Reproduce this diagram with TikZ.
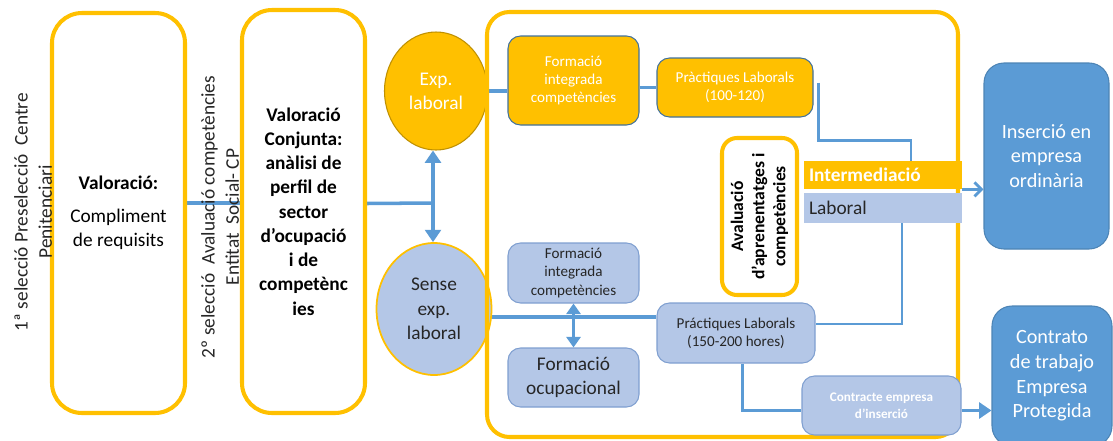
\documentclass[tikz,border=0pt]{standalone}
\usepackage{fontspec}
\setmainfont{Carlito}
\usepackage{tikz}
\usetikzlibrary{arrows.meta,shapes}
\definecolor{gold}{HTML}{FFC000}
\definecolor{darkgold}{HTML}{BF9000}
\definecolor{lineblue}{HTML}{5B9BD5}
\definecolor{paleblue}{HTML}{B4C7E7}
\definecolor{paleedge}{HTML}{7F9FD0}
\definecolor{slateedge}{HTML}{41719C}
\definecolor{inkgray}{HTML}{262626}
\newcommand{\bodyfont}{\fontsize{11}{13.8}\selectfont}
\newcommand{\stepfont}{\fontsize{8.6}{10.4}\selectfont}
\pgfdeclarelayer{edgelayer}
\pgfdeclarelayer{nodelayer}
\pgfsetlayers{edgelayer,nodelayer,main}
\tikzstyle{seltext}=[rotate=90,align=center,inner sep=0pt,text=inkgray]
\tikzstyle{selbox}=[rectangle,rounded corners=0.6cm,draw=gold,line width=2.3pt,fill=white,align=center,inner sep=0pt]
\tikzstyle{goldcircle}=[ellipse,fill=gold,draw=darkgold,line width=0.6pt,text=white,align=center,inner sep=0pt]
\tikzstyle{palecircle}=[ellipse,fill=paleblue,draw=gold,line width=1pt,text=inkgray,align=center,inner sep=0pt]
\tikzstyle{panel}=[rectangle,rounded corners=0.45cm,draw=gold,line width=2.3pt]
\tikzstyle{goldstep}=[rectangle,rounded corners=0.25cm,fill=gold,draw=slateedge,line width=0.6pt,text=white,align=center,inner sep=0pt,font=\stepfont]
\tikzstyle{palestep}=[rectangle,rounded corners=0.25cm,fill=paleblue,draw=paleedge,line width=0.6pt,text=inkgray,align=center,inner sep=0pt,font=\stepfont]
\tikzstyle{avalbox}=[rectangle,rounded corners=0.3cm,draw=gold,line width=2.3pt,fill=white,align=center,inner sep=0pt,font=\fontsize{10}{12}\selectfont\bfseries]
\tikzstyle{bar}=[rectangle,text width=2.96cm,align=left,inner xsep=0.1cm,inner ysep=0pt,minimum height=0.56cm]
\tikzstyle{bluegoal}=[rectangle,rounded corners=0.4cm,fill=lineblue,draw=lineblue!85!black,line width=0.6pt,text=white,align=center,inner sep=0pt,font=\fontsize{11.5}{14}\selectfont]
\tikzstyle{mainline}=[-,draw=lineblue,line width=2pt]
\tikzstyle{thinline}=[-,draw=lineblue,line width=1.4pt]
\tikzstyle{uparrow}=[-{Triangle[width=9pt,length=7pt]},draw=lineblue,fill=lineblue,line width=2pt]
\tikzstyle{twoway}=[{Triangle[width=8pt,length=6pt]}-{Triangle[width=8pt,length=6pt]},draw=lineblue,fill=lineblue,line width=2pt]
\tikzstyle{barbarrow}=[-{Straight Barb[width=8pt,length=4pt]},draw=lineblue,line width=1.6pt]

\begin{document}
\begin{tikzpicture}[font=\bodyfont]
	\useasboundingbox (0,0) rectangle (22.26,-8.8);
	\begin{pgfonlayer}{nodelayer}
		\node [style=selbox, minimum width=2.66cm, minimum height=8cm] (val) at (2.37,-4.26) {\textbf{Valoració:}\\[5pt]Compliment\\de requisits};
		\node [style=seltext] (sel1) at (0.66,-4.24) {1ª selecció Preselecció~ Centre\\Penitenciari};
		\node [style=selbox, minimum width=2.46cm, minimum height=8.06cm, font=\bodyfont\bfseries] (conj) at (6.07,-4.23) {Valoració\\Conjunta:\\anàlisi de\\perfil de\\sector\\d’ocupació\\i de\\competènc\\ies};
		\node [style=seltext] (sel2) at (4.4,-4.34) {2º selecció~ Avaluació competències\\Entitat~ Social- CP};

		\node [style=goldcircle, minimum width=2.06cm, minimum height=2.36cm] (exp) at (8.72,-1.82) {Exp.\\laboral};
		\node [style=palecircle, minimum width=2.3cm, minimum height=2.64cm] (sense) at (8.68,-6.18) {Sense\\exp.\\laboral};

		\node [style=panel, minimum width=9.42cm, minimum height=8.5cm] (itin) at (14.45,-4.49) {};

		\node [style=goldstep, minimum width=2.62cm, minimum height=1.78cm] (fiA) at (11.47,-1.61) {Formació\\integrada\\competències};
		\node [style=goldstep, minimum width=3.12cm, minimum height=1.18cm] (pA) at (14.7,-1.75) {Pràctiques Laborals\\(100-120)};
		\node [style=palestep, minimum width=2.62cm, minimum height=1.2cm] (fiB) at (11.47,-5.46) {Formació\\integrada\\competències};
		\node [style=palestep, minimum width=2.62cm, minimum height=1.18cm, font=\bodyfont] (focu) at (11.47,-7.55) {Formació\\ocupacional};
		\node [style=palestep, minimum width=3.16cm, minimum height=1.2cm] (pB) at (14.72,-6.66) {Práctiques Laborals\\(150-200 hores)};
		\node [style=avalbox, rotate=90, minimum width=3.14cm, minimum height=1.5cm] (aval) at (15.19,-4.33) {Avaluació\\d’aprenentatges i\\competències};

		\node [style=bar, fill=gold, text=white, font=\bodyfont\bfseries] (inter) at (17.66,-3.5) {Intermediació};
		\node [style=bar, fill=paleblue, text=inkgray, minimum height=0.6cm] (lab) at (17.66,-4.16) {Laboral};
		\node [style=palestep, text=white, font=\fontsize{7.5}{9.5}\selectfont\bfseries, minimum width=3.18cm, minimum height=1.18cm] (contr) at (17.63,-8.11) {Contracte empresa\\d’inserció};

		\node [style=bluegoal, minimum width=2.5cm, minimum height=3.72cm] (inser) at (20.93,-3.12) {Inserció en\\empresa\\ordinària};
		\node [style=bluegoal, minimum width=2.4cm, minimum height=2.8cm] (prot) at (21.04,-7.52) {Contrato\\de trabajo\\Empresa\\Protegida};
	\end{pgfonlayer}
	\begin{pgfonlayer}{edgelayer}
		\coordinate (junc) at (8.66,-4.06);
		\draw [style=mainline] ([yshift=0.2cm]val.east) -- ([yshift=0.2cm]val.east -| conj.west);
		\draw [style=mainline] ([yshift=0.16cm]conj.east) -- (junc);
		\draw [style=uparrow] (junc) -- (junc |- exp.south);
		\draw [style=uparrow] (junc) -- (junc |- sense.north);
		\draw [style=mainline] (exp.east) -- (exp.east -| fiA.west);
		\draw [style=mainline] (fiA.east |- pA.west) -- (pA.west);
		\draw [style=thinline] ([xshift=0.1cm,yshift=0.1cm]pA.east) -- ++(0,-1.16) -| ([xshift=0.56cm]inter.north);
		\draw [style=thinline] ([xshift=0.38cm]lab.south) |- ([yshift=0.18cm]pB.east);
		\draw [style=barbarrow] (inter.south east) -- (inter.south east -| inser.west);
		\draw [style=mainline] (sense.-8) -- (sense.-8 -| pB.west);
		\draw [style=twoway] (fiB.south) -- (focu.north);
		\draw [style=mainline, line width=1.7pt] ([xshift=0.12cm]pB.south) |- ([yshift=-0.1cm]contr.west);
		\draw [style=uparrow] ([yshift=-0.1cm]contr.east) -- ([yshift=-0.1cm]contr.east -| prot.west);
	\end{pgfonlayer}
\end{tikzpicture}
\end{document}
